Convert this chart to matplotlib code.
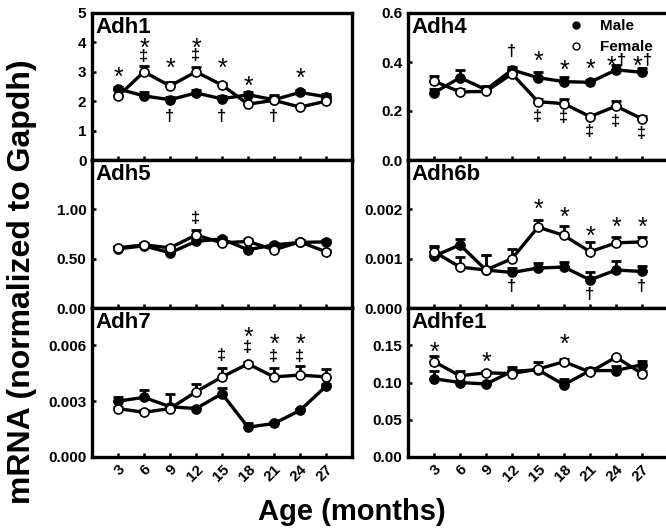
#!/usr/bin/env python3
"""Adh family mRNA levels across age, male vs female, six panels."""

import matplotlib
matplotlib.use("Agg")
import matplotlib.pyplot as plt
from matplotlib.lines import Line2D

plt.rcParams["font.family"] = ["Liberation Sans", "DejaVu Sans"]
plt.rcParams["font.weight"] = "bold"

AGES = [3, 6, 9, 12, 15, 18, 21, 24, 27]
AGE_LABELS = ["3", "6", "9", "12", "15", "18", "21", "24", "27"]

# Adh1
adh1_male = [2.42, 2.18, 2.05, 2.28, 2.08, 2.22, 2.05, 2.30, 2.15]
adh1_male_err = [0.08, 0.12, 0.08, 0.10, 0.08, 0.08, 0.15, 0.08, 0.08]
adh1_female = [2.17, 3.00, 2.52, 3.00, 2.55, 1.90, 2.03, 1.80, 2.00]
adh1_female_err = [0.05, 0.20, 0.15, 0.15, 0.08, 0.05, 0.15, 0.05, 0.05]
adh1_marks = [(3, 3.04, "*"), (6, 4.02, "*"), (6, 3.55, "‡"), (9, 3.34, "*"),
              (12, 4.02, "*"), (12, 3.58, "‡"), (15, 3.34, "*"), (18, 2.73, "*"),
              (24, 3.0, "*"), (9, 1.48, "†"), (15, 1.48, "†"), (21, 1.48, "†")]

# Adh4
adh4_male = [0.274, 0.336, 0.287, 0.368, 0.336, 0.320, 0.317, 0.368, 0.358]
adh4_male_err = [0.015, 0.030, 0.015, 0.012, 0.025, 0.018, 0.010, 0.020, 0.018]
adh4_female = [0.322, 0.278, 0.280, 0.352, 0.238, 0.230, 0.177, 0.220, 0.168]
adh4_female_err = [0.020, 0.010, 0.010, 0.010, 0.010, 0.018, 0.012, 0.020, 0.010]
adh4_marks = [(12, 0.446, "†"), (15, 0.432, "*"), (18, 0.395, "*"), (21, 0.40, "*"),
              (24, 0.41, "*†"), (27, 0.41, "*†"), (15, 0.18, "‡"), (18, 0.177, "‡"),
              (21, 0.12, "‡"), (24, 0.16, "‡"), (27, 0.11, "‡")]

# Adh5
adh5_male = [0.60, 0.63, 0.56, 0.675, 0.70, 0.59, 0.64, 0.665, 0.67]
adh5_male_err = [0.02, 0.03, 0.02, 0.03, 0.02, 0.02, 0.02, 0.02, 0.02]
adh5_female = [0.61, 0.64, 0.61, 0.74, 0.66, 0.675, 0.59, 0.67, 0.57]
adh5_female_err = [0.02, 0.02, 0.02, 0.05, 0.02, 0.02, 0.02, 0.02, 0.02]
adh5_marks = [(12, 0.91, "‡")]

# Adh6b
adh6b_male = [0.00105, 0.00128, 0.00077, 0.00072, 0.00081, 0.00083, 0.00057, 0.00077, 0.00074]
adh6b_male_err = [0.0002, 0.00012, 0.0003, 0.0001, 0.0001, 0.0001, 0.00015, 0.00018, 0.00012]
adh6b_female = [0.00114, 0.00083, 0.00077, 0.00100, 0.00164, 0.00147, 0.00114, 0.00132, 0.00134]
adh6b_female_err = [0.0001, 0.0002, 0.0003, 0.0002, 0.00015, 0.0002, 0.0002, 0.00012, 0.0001]
adh6b_marks = [(15, 0.00214, "*"), (18, 0.00197, "*"), (21, 0.00159, "*"),
               (24, 0.00178, "*"), (27, 0.00178, "*"), (12, 0.00045, "†"),
               (21, 0.00029, "†"), (27, 0.00045, "†")]

# Adh7
adh7_male = [0.0030, 0.0032, 0.0027, 0.0026, 0.0034, 0.0016, 0.0018, 0.0025, 0.0038]
adh7_male_err = [0.0002, 0.0004, 0.0007, 0.0001, 0.0003, 0.0002, 0.0001, 0.0001, 0.0001]
adh7_female = [0.0026, 0.0024, 0.0026, 0.0035, 0.0043, 0.0050, 0.0043, 0.0044, 0.0043]
adh7_female_err = [0.0001, 0.0001, 0.0001, 0.0004, 0.0005, 0.0001, 0.0005, 0.0005, 0.0004]
adh7_marks = [(15, 0.0055, "‡"), (18, 0.0068, "*"), (18, 0.0059, "‡"),
              (21, 0.0064, "*"), (21, 0.0054, "‡"), (24, 0.0064, "*"), (24, 0.0054, "‡")]

# Adhfe1
adhfe1_male = [0.105, 0.100, 0.098, 0.115, 0.117, 0.097, 0.116, 0.116, 0.124]
adhfe1_male_err = [0.010, 0.002, 0.002, 0.006, 0.003, 0.008, 0.004, 0.006, 0.005]
adhfe1_female = [0.128, 0.109, 0.113, 0.112, 0.118, 0.128, 0.114, 0.134, 0.112]
adhfe1_female_err = [0.007, 0.007, 0.003, 0.003, 0.010, 0.004, 0.003, 0.002, 0.003]
adhfe1_marks = [(3, 0.15, "*"), (9, 0.136, "*"), (18, 0.161, "*")]

PANELS = [
    ("Adh1", adh1_male, adh1_male_err, adh1_female, adh1_female_err, adh1_marks,
     5, [0, 1, 2, 3, 4, 5], "{:.0f}"),
    ("Adh4", adh4_male, adh4_male_err, adh4_female, adh4_female_err, adh4_marks,
     0.6, [0, 0.2, 0.4, 0.6], "{:.1f}"),
    ("Adh5", adh5_male, adh5_male_err, adh5_female, adh5_female_err, adh5_marks,
     1.5, [0, 0.5, 1.0], "{:.2f}"),
    ("Adh6b", adh6b_male, adh6b_male_err, adh6b_female, adh6b_female_err, adh6b_marks,
     0.003, [0, 0.001, 0.002], "{:.3f}"),
    ("Adh7", adh7_male, adh7_male_err, adh7_female, adh7_female_err, adh7_marks,
     0.008, [0, 0.003, 0.006], "{:.3f}"),
    ("Adhfe1", adhfe1_male, adhfe1_male_err, adhfe1_female, adhfe1_female_err, adhfe1_marks,
     0.2, [0, 0.05, 0.10, 0.15], "{:.2f}"),
]

# symbol size (pt), weight and glyph-centre height above baseline (fraction of em)
SYMBOL_STYLE = {"*": (18, "normal", 0.58), "†": (12, "bold", 0.30), "‡": (12, "bold", 0.30)}

W, H = 666, 532
COL_X = [92, 408]
COL_W = 260
ROW_Y = [13, 160, 308, 457]


def put_symbol(ax, age, y, ch, dx=0):
    fs, weight, centre = SYMBOL_STYLE[ch]
    ax.annotate(ch, xy=(age, y), xytext=(dx, -centre * fs), textcoords="offset points",
                ha="center", va="baseline", fontsize=fs, fontweight=weight, zorder=4)


fig = plt.figure(figsize=(W / 100, H / 100), dpi=100)

for i, (name, male, male_err, female, female_err, marks, ytop, yticks, fmt) in enumerate(PANELS):
    row, col = divmod(i, 2)
    x0 = COL_X[col] / W
    y0 = (H - ROW_Y[row + 1]) / H
    h = (ROW_Y[row + 1] - ROW_Y[row]) / H
    ax = fig.add_axes([x0, y0, COL_W / W, h])

    for vals, err, face in [(male, male_err, "black"), (female, female_err, "white")]:
        ax.errorbar(AGES, vals, yerr=[[0] * len(err), err], fmt="none",
                    ecolor="black", elinewidth=2, capsize=3.5, capthick=2, zorder=2)
        ax.plot(AGES, vals, color="black", lw=2.4, marker="o", ms=6.5,
                mfc=face, mec="black", mew=1.2, zorder=3)

    for age, y, txt in marks:
        if len(txt) == 1:
            put_symbol(ax, age, y, txt)
        else:
            put_symbol(ax, age, y, txt[0], dx=-3.5)
            put_symbol(ax, age, y, txt[1], dx=4.0)

    ax.set_xlim(0, 30)
    ax.set_ylim(0, ytop)
    ax.set_xticks(AGES)
    ax.set_yticks(yticks)
    ax.set_yticklabels([fmt.format(v) for v in yticks])
    if row == 2:
        ax.set_xticklabels(AGE_LABELS, rotation=45, ha="right", rotation_mode="anchor")
    else:
        ax.set_xticklabels([])
    ax.tick_params(direction="in", length=3, width=1.8, labelsize=11, pad=4)
    for side in ax.spines.values():
        side.set_linewidth(2.4)
    if col == 1:
        ax.spines["right"].set_visible(False)

    ax.text(0.015, 0.975, name, transform=ax.transAxes, ha="left", va="top",
            fontsize=16, fontweight="bold")

    if name == "Adh4":
        handles = [
            Line2D([], [], ls="none", marker="o", ms=5, mfc="black", mec="black"),
            Line2D([], [], ls="none", marker="o", ms=5, mfc="white", mec="black"),
        ]
        ax.legend(handles, ["Male", "Female"], loc="upper left",
                  bbox_to_anchor=(0.575, 1.03), frameon=False, fontsize=11,
                  handlelength=1.0, handletextpad=1.1, borderpad=0.2,
                  labelspacing=0.45)

fig.text(22 / W, 1 - 282 / H, "mRNA (normalized to Gapdh)", rotation=90,
         ha="center", va="center", fontsize=23, fontweight="bold")
fig.text(352 / W, 1 - 512 / H, "Age (months)", ha="center", va="center",
         fontsize=21, fontweight="bold")

fig.savefig("out.png", dpi=100)
